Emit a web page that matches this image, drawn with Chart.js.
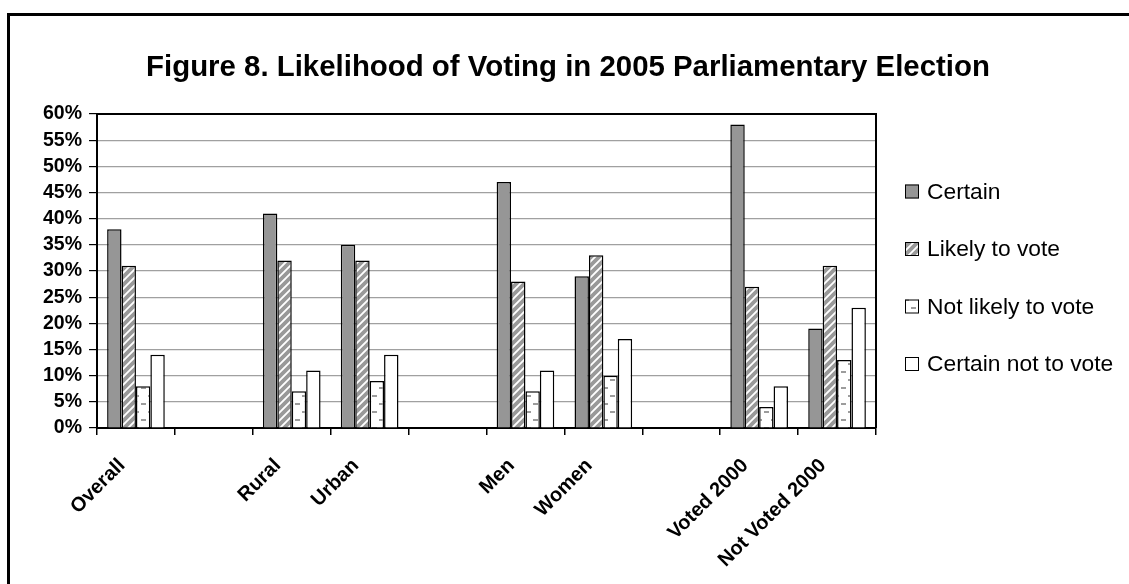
<!DOCTYPE html>
<html>
<head>
<meta charset="utf-8">
<script src="https://cdn.jsdelivr.net/npm/chart.js@4"></script>
<style>
  html, body { margin: 0; padding: 0; background: #fff; overflow: hidden; }
  #wrap { position: relative; width: 1129px; height: 584px; }
  #frame { position: absolute; left: 7px; top: 13px; width: 1200px; height: 700px; border: 3px solid #000; box-sizing: border-box; }
  #title { position: absolute; left: 0; width: 1136px; top: 51px; text-align: center;
           font: bold 29.4px "Liberation Sans", Arial, sans-serif; line-height: 29px; color: #000; white-space: nowrap; }
  canvas { position: absolute; left: 0; top: 0; }
</style>
</head>
<body>
<div id="wrap">
  <canvas id="c" width="1129" height="584"></canvas>
  <div id="frame"></div>
  <div id="title">Figure 8. Likelihood of Voting in 2005 Parliamentary Election</div>
</div>
<script>
const categories = ['Overall', '', 'Rural', 'Urban', '', 'Men', 'Women', '', 'Voted 2000', 'Not Voted 2000'];
const seriesNames = ['Certain', 'Likely to vote', 'Not likely to vote', 'Certain not to vote'];
const certain    = [38, null, 41, 35, null, 47, 29, null, 58, 19];
const likely     = [31, null, 32, 32, null, 28, 33, null, 27, 31];
const notLikely  = [8,  null, 7,  9,  null, 7,  10, null, 4,  13];
const certainNot = [14, null, 11, 14, null, 11, 17, null, 8,  23];
const yTickLabels = ['0%','5%','10%','15%','20%','25%','30%','35%','40%','45%','50%','55%','60%'];

function makePattern(draw, w, h) {
  const pc = document.createElement('canvas');
  pc.width = w; pc.height = h;
  const p = pc.getContext('2d');
  p.fillStyle = '#fff';
  p.fillRect(0, 0, w, h);
  draw(p);
  return document.getElementById('c').getContext('2d').createPattern(pc, 'repeat');
}
const diagPattern = makePattern(p => {
  p.strokeStyle = '#999999';
  p.lineWidth = 3.8;
  p.beginPath();
  p.moveTo(-3, 11); p.lineTo(11, -3);
  p.moveTo(-3, 3); p.lineTo(3, -3);
  p.moveTo(5, 11); p.lineTo(11, 5);
  p.stroke();
}, 8, 8);
const dashPattern = makePattern(p => {
  p.fillStyle = '#9c9c9c';
  p.fillRect(1, 3, 5, 2);
  p.fillRect(8, 11, 5, 2);
}, 14, 16);

const fills = ['#969696', diagPattern, dashPattern, '#ffffff'];
const seriesData = [certain, likely, notLikely, certainNot];

const FONT = '"Liberation Sans", Arial, sans-serif';

const plotFrame = {
  id: 'plotFrame',
  afterDatasetsDraw(chart) {
    const {ctx, chartArea: a} = chart;
    ctx.save();
    ctx.strokeStyle = '#000';
    ctx.lineWidth = 2;
    ctx.beginPath();
    ctx.moveTo(a.left, a.top);
    ctx.lineTo(a.right, a.top);
    ctx.lineTo(a.right, a.bottom);
    ctx.stroke();
    ctx.restore();
  }
};

const customLegend = {
  id: 'customLegend',
  afterDraw(chart) {
    const ctx = chart.ctx;
    ctx.save();
    chart.data.datasets.forEach((ds, i) => {
      const cy = 191.5 + i * 57.5;
      ctx.fillStyle = ds.backgroundColor;
      ctx.fillRect(905, cy - 7, 14, 14);
      ctx.strokeStyle = '#000';
      ctx.lineWidth = 1;
      ctx.strokeRect(905.5, cy - 6.5, 13, 13);
      ctx.fillStyle = '#000';
      ctx.font = '22.8px ' + FONT;
      ctx.textBaseline = 'middle';
      ctx.textAlign = 'left';
      ctx.fillText(ds.label, 927, cy + 1);
    });
    ctx.restore();
  }
};

new Chart(document.getElementById('c'), {
  type: 'bar',
  data: {
    labels: categories,
    datasets: seriesNames.map((name, i) => ({
      label: name,
      data: seriesData[i],
      backgroundColor: fills[i],
      borderColor: '#000',
      borderWidth: 1.5,
      categoryPercentage: 0.74,
      barPercentage: 1.0
    }))
  },
  options: {
    responsive: false,
    animation: false,
    devicePixelRatio: 1,
    layout: { padding: { left: 0, top: 114, right: 253, bottom: 0 } },
    plugins: {
      legend: { display: false },
      title: { display: false },
      tooltip: { enabled: false }
    },
    scales: {
      x: {
        afterFit(scale) { scale.height = 156; },
        grid: { offset: true, drawOnChartArea: false, drawTicks: true, tickLength: 7, tickColor: '#000', lineWidth: 1.5 },
        border: { color: '#000', width: 2 },
        ticks: {
          autoSkip: false, maxRotation: 45, minRotation: 45,
          color: '#000', font: { family: FONT, size: 20, weight: 'bold' },
          padding: 19, labelOffset: -14
        }
      },
      y: {
        min: 0, max: 60,
        afterFit(scale) { scale.width = 97; },
        grid: { color: '#a0a0a0', lineWidth: 1.2, tickColor: '#000', tickLength: 8, drawTicks: true },
        border: { color: '#000', width: 2 },
        ticks: {
          stepSize: 5, autoSkip: false, color: '#000', padding: 7,
          font: { family: FONT, size: 19.5, weight: 'bold', lineHeight: 1 },
          callback: (v, idx) => yTickLabels[idx]
        }
      }
    }
  },
  plugins: [plotFrame, customLegend]
});
</script>
</body>
</html>
